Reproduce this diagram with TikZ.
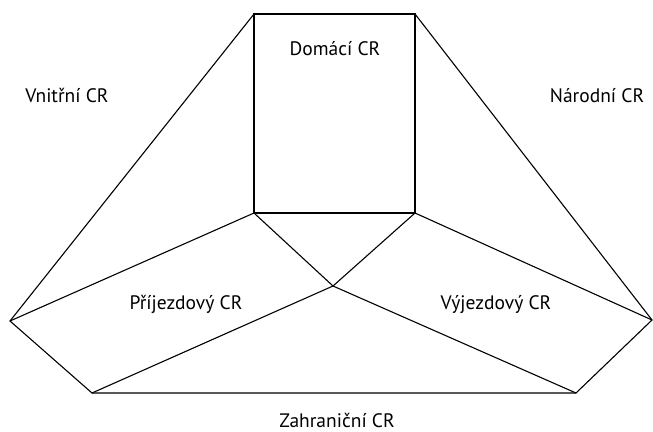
\documentclass[tikz,border=0pt]{standalone}
\usepackage{fontspec}
\setmainfont{PT Sans}
\begin{document}
\begin{tikzpicture}[x=1pt,y=-1pt,
  edge/.style={draw=black,line width=1.1pt,line join=miter},
  lbl/.style={anchor=base,inner sep=0pt,font=\fontsize{19.5}{22}\selectfont}]
\useasboundingbox (0,0) rectangle (653,431);
\coordinate (tl) at (254,14);
\coordinate (tr) at (415,14);
\coordinate (bl) at (254,213);
\coordinate (br) at (415,213);
\coordinate (c) at (333,286);
\coordinate (l) at (10,321);
\coordinate (r) at (652,320);
\coordinate (bb) at (92,393);
\coordinate (bb2) at (576,393);
\draw[edge] (tl) -- (tr) -- (br) -- (bl) -- cycle;
\draw[edge] (tl) -- (l) -- (bb) -- (bb2) -- (r) -- (tr);
\draw[edge] (l) -- (bl) -- (c) -- (br) -- (r);
\draw[edge] (bb) -- (c) -- (bb2);
\node[lbl] (dom) at (335,55) {Domácí CR};
\node[lbl] (vni) at (67,102) {Vnitřní CR};
\node[lbl] (nar) at (597,102) {Národní CR};
\node[lbl] (pri) at (186,309) {Příjezdový CR};
\node[lbl] (vyj) at (496,309) {Výjezdový CR};
\node[lbl] (zah) at (337,427) {Zahraniční CR};
\end{tikzpicture}
\end{document}
